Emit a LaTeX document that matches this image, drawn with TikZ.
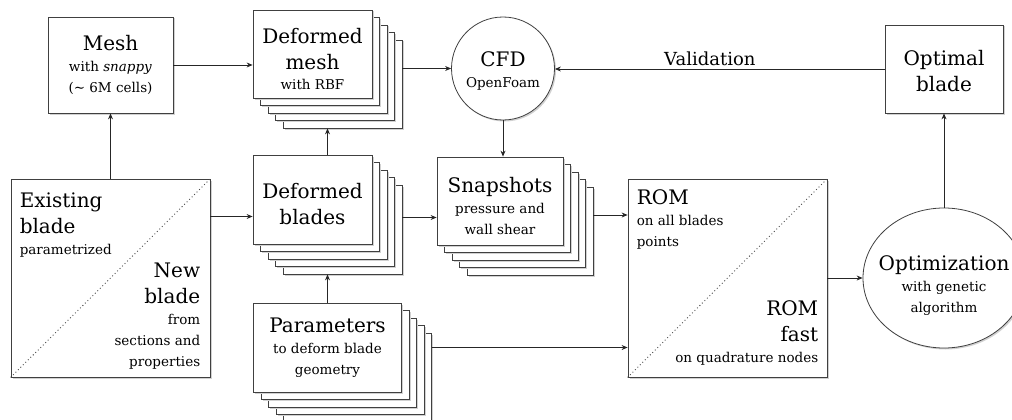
\documentclass[tikz,border=0pt]{standalone}
\usepackage{fontspec}
\setmainfont{DejaVu Serif}
\usetikzlibrary{shapes.geometric, arrows.meta, calc, shadows}

\newcommand{\headfont}{\fontsize{20}{26}\selectfont}
\newcommand{\notefont}{\fontsize{13.5}{21}\selectfont}

\begin{document}
\begin{tikzpicture}[
        x=1pt, y=-1pt,
        % Styles
        box/.style={
            rectangle, draw=black!75, line width=0.8pt, fill=white,
            inner sep=0pt, align=center, font=\notefont,
            general shadow={fill=black!18, shadow xshift=1.5pt, shadow yshift=-1.5pt}
        },
        layer/.style 2 args={
            general shadow={fill=black!18, shadow xshift=#2, shadow yshift=-#2},
            copy shadow={draw=black!75, line width=0.8pt, fill=white, shadow xshift=#1, shadow yshift=-#1}
        },
        stack/.style={
            layer={30pt}{31.5pt}, layer={22.5pt}{24pt},
            layer={15pt}{16.5pt}, layer={7.5pt}{9pt}, box
        },
        caption/.style={inner sep=0pt, align=center, font=\notefont},
        corner/.style={inner sep=0pt, font=\notefont},
        diag/.style={draw=black!70, line width=0.9pt, dash pattern=on 0.9pt off 2.6pt},
        link/.style={
            -{Stealth[length=6pt, width=5pt]},
            draw=black!85, line width=0.8pt
        }
    ]
        \useasboundingbox (0,0) rectangle (1012,420);

        % Top row
        \node[box, minimum width=125, minimum height=96] (mesh) at (110.5,65)
            {{\headfont Mesh}\\with \textit{snappy}\\(\textasciitilde\ 6M cells)};
        \node[stack, minimum width=119, minimum height=88] (dmesh) at (312.5,54) {};
        \node[caption] (dmesh-text) at ([yshift=-5pt]dmesh)
            {{\headfont Deformed}\\[5pt]{\headfont mesh}\\[-1pt]with RBF};
        \node[box, circle, minimum size=103] (cfd) at (503,68.5) {};
        \node[caption] (cfd-text) at ([yshift=-2pt]cfd) {{\headfont CFD}\\OpenFoam};
        \node[box, minimum width=118, minimum height=88] (optimal) at (944,69) {};
        \node[caption] (optimal-text) at ([yshift=-2pt]optimal)
            {{\headfont Optimal}\\[5pt]{\headfont blade}};

        % Middle row
        \node[box, minimum width=199, minimum height=198] (existing) at (110.5,278) {};
        \draw[diag] (existing.south west) -- (existing.north east);
        \node[corner, anchor=north west, align=left] (existing-old) at ([shift={(9,14)}]existing.north west)
            {{\headfont Existing}\\[5pt]{\headfont blade}\\parametrized};
        \node[corner, anchor=south east, align=right] (existing-new) at ([shift={(-10,-8)}]existing.south east)
            {{\headfont New}\\[5pt]{\headfont blade}\\from\\sections and\\properties};

        \node[stack, minimum width=119, minimum height=89] (dblades) at (312.5,199.5) {};
        \node[caption] (dblades-text) at ([yshift=-5pt]dblades)
            {{\headfont Deformed}\\[5pt]{\headfont blades}};
        \node[stack, minimum width=126, minimum height=88] (snap) at (500,201) {};
        \node[caption] (snap-text) at ([yshift=-5pt]snap)
            {{\headfont Snapshots}\\pressure and\\wall shear};

        \node[box, minimum width=199, minimum height=198] (rom) at (727.5,278) {};
        \draw[diag] (rom.south west) -- (rom.north east);
        \node[corner, anchor=north west, align=left] (rom-all) at ([shift={(9,11)}]rom.north west)
            {{\headfont ROM}\\on all blades\\points};
        \node[corner, anchor=south east, align=right] (rom-fast) at ([shift={(-9,-12)}]rom.south east)
            {{\headfont ROM}\\[5pt]{\headfont fast}\\on quadrature nodes};

        \node[box, ellipse, minimum width=162, minimum height=140] (optim) at (944,278) {};
        \node[caption] (optim-text) at ([yshift=-8pt]optim)
            {{\headfont Optimization}\\with genetic\\algorithm};

        % Bottom
        \node[stack, minimum width=148, minimum height=89] (params) at (327.5,347.5)
            {{\headfont Parameters}\\to deform blade\\geometry};

        % Connections
        \draw[link] (existing.north) -- (mesh.south);
        \draw[link] (mesh.east) -- (mesh.east -| dmesh.west);
        \draw[link] ([xshift=30pt]dmesh.east |- cfd.west) -- (cfd.west);
        \draw[link] (optimal.west) -- node[pos=0.53, above, font=\fontsize{18}{22}\selectfont] {Validation} (optimal.west -| cfd.east);
        \draw[link] (cfd.south) -- (cfd.south |- snap.north);
        \draw[link] ([shift={(15,0)}]dblades.north) -- ([shift={(15,30)}]dmesh.south);
        \draw[link] (params.north) -- ([shift={(15,30)}]dblades.south);
        \draw[link] ([shift={(0,17)}]dblades.west -| existing.east) -- ([shift={(0,17)}]dblades.west);
        \draw[link] ([shift={(30,18)}]dblades.east) -- ([shift={(0,18)}]dblades.east -| snap.west);
        \draw[link] ([shift={(30,14)}]snap.east) -- ([shift={(0,14)}]snap.east -| rom.west);
        \draw[link] ([xshift=30pt]params.east) -- (params.east -| rom.west);
        \draw[link] (rom.east) -- (optim.west);
        \draw[link] (optim.north) -- (optimal.south);

    \end{tikzpicture}
\end{document}
